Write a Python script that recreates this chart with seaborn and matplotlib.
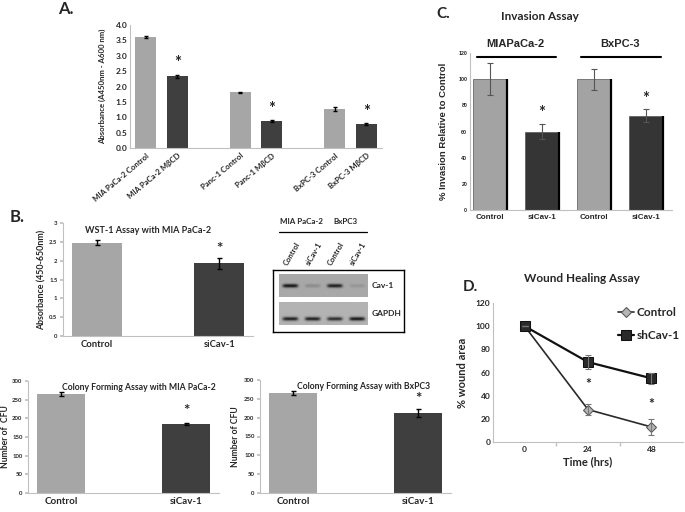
import numpy as np
import pandas as pd
import seaborn as sns
import matplotlib.pyplot as plt
from matplotlib.lines import Line2D

# ---- data ----
# A. cholesterol depletion
a_labels = ["MIA PaCa-2 Control", "MIA PaCa-2 MβCD", "Panc-1 Control",
            "Panc-1 MβCD", "BxPC-3 Control", "BxPC-3 MβCD"]
a_values = [3.61, 2.33, 1.81, 0.87, 1.26, 0.78]
a_errors = [0.03, 0.05, 0.02, 0.03, 0.07, 0.02]
a_star = [False, True, False, True, False, True]

# B. WST-1 with MIA PaCa-2
b_labels = ["Control", "siCav-1"]
wst_values = [2.48, 1.93]
wst_errors = [0.06, 0.15]

# B. colony forming
cfu_mia_values = [265, 185]
cfu_mia_errors = [5, 3]
cfu_bx_values = [265, 213]
cfu_bx_errors = [5, 10]

# B. western blot band intensities (lanes: Control, siCav-1, Control, siCav-1)
blot_lanes = ["Control", "siCav-1", "Control", "siCav-1"]
blot_groups = ["MIA PaCa-2", "BxPC3"]
cav1_band = [0.95, 0.18, 0.9, 0.12]
gapdh_band = [0.9, 0.9, 0.82, 0.95]

# C. invasion
c_groups = ["MIAPaCa-2", "BxPC-3"]
c_labels = ["Control", "siCav-1", "Control", "siCav-1"]
c_values = [100, 60, 100, 72]
c_errors = [12, 6, 8, 5]

# D. wound healing
d_times = ["0", "24", "48"]
d_control = [100, 28, 13]
d_control_err = [0, 5, 7]
d_shcav = [100, 69, 55]
d_shcav_err = [0, 6, 5]
d_star_y = [None, 50, 33]

LIGHT = "#a6a6a6"
DARK = "#3f3f3f"
AXC = "#c0c0c0"

sns.set_theme(style="white")
plt.rcParams["font.family"] = ["Lato", "DejaVu Sans"]
plt.rcParams["font.weight"] = "bold"

W, H = 685, 512
fig = plt.figure(figsize=(6.85, 5.12), dpi=100)


def rect(x0, y0, x1, y1):
    return [x0 / W, 1 - y1 / H, (x1 - x0) / W, (y1 - y0) / H]


def excel_axes(ax, tick_size):
    sns.despine(ax=ax)
    for s in ("left", "bottom"):
        ax.spines[s].set_color(AXC)
        ax.spines[s].set_linewidth(0.8)
    ax.tick_params(axis="y", labelsize=tick_size, length=2, color=AXC, pad=2, left=True)
    ax.tick_params(axis="x", length=0, pad=3)
    ax.set_xlabel("")


def ylabel_at(ax, r, text, xpx, size):
    # xpx is the centre of the rotated label, in figure pixels
    ax.set_ylabel(text, fontsize=size, fontweight="bold")
    ax.yaxis.label.set_va("center")
    ax.yaxis.set_label_coords((xpx - r[0]) / (r[2] - r[0]), 0.5)


def bar_panel(r, labels, values, errors, width, ylim, ticks, fmt=None):
    ax = fig.add_axes(rect(*r))
    sns.barplot(x=labels, y=values, hue=labels, palette=[LIGHT, DARK],
                width=width, legend=False, ax=ax, linewidth=0)
    ax.errorbar(range(len(values)), values, yerr=errors, fmt="none",
                ecolor="black", elinewidth=1, capsize=1.8, capthick=1)
    ax.set_ylim(*ylim)
    ax.set_yticks(ticks)
    if fmt:
        ax.set_yticklabels([fmt.format(t) for t in ticks])
    return ax


# ---------------- A ----------------
ra = (130, 25, 382, 148)
axA = fig.add_axes(rect(*ra))
a_pos = [0, 1, 3, 4, 6, 7]
dfa = pd.DataFrame({"pos": a_pos, "val": a_values, "lab": a_labels})
sns.barplot(data=dfa, x="pos", y="val", hue="pos", order=list(range(8)),
            palette=[LIGHT, DARK, LIGHT, DARK, LIGHT, DARK], width=0.68,
            legend=False, ax=axA, linewidth=0)
axA.errorbar(a_pos, a_values, yerr=a_errors, fmt="none", ecolor="black",
             elinewidth=1, capsize=1.5, capthick=1)
for p, v, e, s in zip(a_pos, a_values, a_errors, a_star):
    if s:
        axA.text(p, v + e + 0.12, "*", ha="center", va="bottom", fontsize=12,
                 color="#222222")
axA.set_xlim(-0.5, 7.5)
axA.set_ylim(0, 4)
axA.set_yticks(np.arange(0, 4.01, 0.5))
axA.set_yticklabels([f"{t:.1f}" for t in np.arange(0, 4.01, 0.5)])
axA.set_xticks(a_pos)
axA.set_xticklabels(a_labels, rotation=40, ha="right", rotation_mode="anchor",
                    fontsize=5.6)
excel_axes(axA, 6)
axA.tick_params(axis="y", length=0)
ylabel_at(axA, ra, "Absorbance (A450nm - A600 nm)", 102, 5.6)
fig.text(58 / W, 1 - 9 / H, "A.", fontsize=12, fontweight="bold", va="center")

# ---------------- B: WST-1 ----------------
rb = (63, 223, 253, 336)
axB = bar_panel(rb, b_labels, wst_values, wst_errors, 0.41, (0, 3),
                [0, 0.5, 1, 1.5, 2, 2.5, 3], "{:g}")
axB.text(1, wst_values[1] + wst_errors[1] + 0.05, "*", ha="center",
         va="bottom", fontsize=11)
excel_axes(axB, 4.3)
axB.tick_params(axis="x", labelsize=6.8)
ylabel_at(axB, rb, "Absorbance (450-650nm)", 42, 6.4)
axB.text(0.45, 0.975, "WST-1 Assay with MIA PaCa-2", transform=axB.transAxes,
         ha="center", va="top", fontsize=6.5, fontweight="bold")
fig.text(10 / W, 1 - 217 / H, "B.", fontsize=12, fontweight="bold", va="center")

# ---------------- B: colony forming ----------------
rc1 = (28, 381, 219, 493)
axC1 = bar_panel(rc1, b_labels, cfu_mia_values, cfu_mia_errors, 0.39,
                 (0, 300), list(range(0, 301, 50)))
axC1.text(1, cfu_mia_values[1] + cfu_mia_errors[1] + 12, "*", ha="center",
          va="bottom", fontsize=11)
excel_axes(axC1, 4.3)
axC1.tick_params(axis="x", labelsize=7)
ylabel_at(axC1, rc1, "Number of  CFU", 6, 6.2)
axC1.text(0.58, 0.985, "Colony Forming Assay with MIA PaCa-2",
          transform=axC1.transAxes, ha="center", va="top", fontsize=6.2,
          fontweight="bold")

rc2 = (260, 380, 451, 493)
axC2 = bar_panel(rc2, b_labels, cfu_bx_values, cfu_bx_errors, 0.39,
                 (0, 300), list(range(0, 301, 50)))
axC2.text(1, cfu_bx_values[1] + cfu_bx_errors[1] + 8, "*", ha="center",
          va="bottom", fontsize=11)
excel_axes(axC2, 4.3)
axC2.tick_params(axis="x", labelsize=7)
ylabel_at(axC2, rc2, "Number of CFU", 236, 6.2)
axC2.text(0.54, 0.985, "Colony Forming Assay with BxPC3",
          transform=axC2.transAxes, ha="center", va="top", fontsize=6.2,
          fontweight="bold")

# ---------------- B: western blot ----------------
axBox = fig.add_axes(rect(273, 270, 404, 332))
axBox.set_xticks([])
axBox.set_yticks([])
for s in axBox.spines.values():
    s.set_color("black")
    s.set_linewidth(1.0)
axBox.set_facecolor("white")


def blot(r, intens, band_y, bg):
    ax = fig.add_axes(rect(*r))
    h, w = 40, 160
    yy, xx = np.mgrid[0:h, 0:w]
    img = np.full((h, w), bg)
    for i, it in enumerate(intens):
        cx = (i + 0.5) / len(intens) * w
        prof = np.exp(-((xx - cx) / 14.0) ** 6) * np.exp(-((yy - band_y * h) / 3.2) ** 2)
        img = img - it * (bg - 0.05) * prof
    ax.imshow(img, cmap="gray", vmin=0, vmax=1, aspect="auto",
              interpolation="bilinear")
    ax.set_xticks([])
    ax.set_yticks([])
    for s in ax.spines.values():
        s.set_visible(False)
    return ax


blot((279, 274, 368, 297), cav1_band, 0.5, 0.66)
blot((279, 302, 368, 325), gapdh_band, 0.72, 0.7)
fig.text(372 / W, 1 - 285 / H, "Cav-1", fontsize=6, fontweight="bold", va="center")
fig.text(372 / W, 1 - 314 / H, "GAPDH", fontsize=6, fontweight="bold", va="center")
lane_x = [292, 314, 336, 358]
for g, name in enumerate(blot_groups):
    x0, x1 = lane_x[2 * g] - 13, lane_x[2 * g + 1] + 9
    fig.text((x0 + x1) / 2 / W, 1 - 222 / H, name, fontsize=5.8,
             fontweight="bold", ha="center", va="center")
    fig.add_artist(Line2D([x0 / W, x1 / W], [1 - 232 / H, 1 - 232 / H],
                          color="black", lw=0.9))
for x, lab in zip(lane_x, blot_lanes):
    fig.text(x / W, 1 - 266 / H, lab, fontsize=5.5, fontweight="bold",
             rotation=60, ha="center", va="bottom")

# ---------------- C: invasion ----------------
rcc = (470, 53, 672, 210)
axI = fig.add_axes(rect(*rcc))
c_pos = list(range(len(c_values)))
sns.barplot(x=c_pos, y=c_values, hue=c_pos, palette=["#a3a3a3", "#353535"] * 2,
            width=0.66, legend=False, ax=axI, edgecolor="#555555", linewidth=0.5)
for p in axI.patches:
    if p.get_height() > 0:
        xr = p.get_x() + p.get_width()
        axI.plot([xr, xr], [0, p.get_height()], color="black", lw=1.6,
                 solid_capstyle="butt")
axI.errorbar(c_pos, c_values, yerr=c_errors, fmt="none", ecolor="#555555",
             elinewidth=0.8, capsize=2.5, capthick=0.8)
for p, v, e in zip(c_pos, c_values, c_errors):
    if p % 2 == 1:
        axI.text(p, v + e + 2, "*", ha="center", va="bottom", fontsize=12)
for g, name in enumerate(c_groups):
    axI.plot([2 * g - 0.25, 2 * g + 1.28], [117, 117], color="black", lw=1.5,
             clip_on=False)
    axI.text(2 * g + 0.5, 123, name, ha="center", va="bottom", fontsize=8,
             fontweight="bold", family="Liberation Sans", clip_on=False)
axI.set_xlim(-0.38, 3.5)
axI.set_ylim(0, 120)
axI.set_yticks(range(0, 121, 20))
axI.set_xticks(c_pos)
axI.set_xticklabels(c_labels, fontsize=5.8, family="Liberation Sans")
excel_axes(axI, 3.8)
axI.tick_params(axis="y", length=0)
for t in axI.get_yticklabels():
    t.set_family("Liberation Sans")
ylabel_at(axI, rcc, "% Invasion Relative to Control", 443, 6.8)
axI.yaxis.label.set_family("Liberation Sans")
fig.text(540 / W, 1 - 16 / H, "Invasion Assay", fontsize=8.5,
         fontweight="bold", ha="center", va="center")
fig.text(436 / W, 1 - 14 / H, "C.", fontsize=11, fontweight="bold", va="center")

# ---------------- D: wound healing ----------------
rd = (493, 303, 683, 442)
axD = fig.add_axes(rect(*rd))
d_x = list(range(len(d_times)))
sns.lineplot(x=d_x, y=d_control, color="#2a2a2a", lw=1.2, marker="D",
             markersize=5, markerfacecolor="#b5b5b5", markeredgecolor="#555555",
             label="Control", ax=axD)
sns.lineplot(x=d_x, y=d_shcav, color="#111111", lw=1.6, marker="s",
             markersize=6.5, markerfacecolor="#2a2a2a", markeredgecolor="#111111",
             label="shCav-1", ax=axD)
axD.errorbar(d_x, d_control, yerr=d_control_err, fmt="none", ecolor="#777777",
             elinewidth=0.8, capsize=2, capthick=0.8)
axD.errorbar(d_x, d_shcav, yerr=d_shcav_err, fmt="none", ecolor="#777777",
             elinewidth=0.8, capsize=2, capthick=0.8)
for x, sy in zip(d_x, d_star_y):
    if sy is not None:
        axD.text(x, sy, "*", ha="center", va="center", fontsize=10)
axD.set_xlim(-0.5, 2.5)
axD.set_ylim(0, 120)
axD.set_yticks(range(0, 121, 20))
axD.set_xticks(d_x)
axD.set_xticklabels(d_times, fontsize=6)
axD.set_xticks([0.5, 1.5], minor=True)
excel_axes(axD, 6)
axD.tick_params(axis="x", which="minor", length=3, color=AXC, bottom=True)
axD.tick_params(axis="y", length=0)
axD.set_xlabel("Time (hrs)", fontsize=8, fontweight="bold", labelpad=2)
ylabel_at(axD, rd, "% wound area", 463, 8)
leg = axD.legend(loc="upper right", frameon=False, fontsize=8.5,
                 handlelength=1.4, handletextpad=0.2, labelspacing=1.0,
                 borderaxespad=0.2, bbox_to_anchor=(1.02, 1.02))
for t in leg.get_texts():
    t.set_fontweight("bold")
fig.text(582 / W, 1 - 279 / H, "Wound Healing Assay", fontsize=8.5,
         fontweight="bold", ha="center", va="center")
fig.text(463 / W, 1 - 287 / H, "D.", fontsize=11, fontweight="bold", va="center")

fig.savefig("out.png", dpi=100, facecolor="white")
